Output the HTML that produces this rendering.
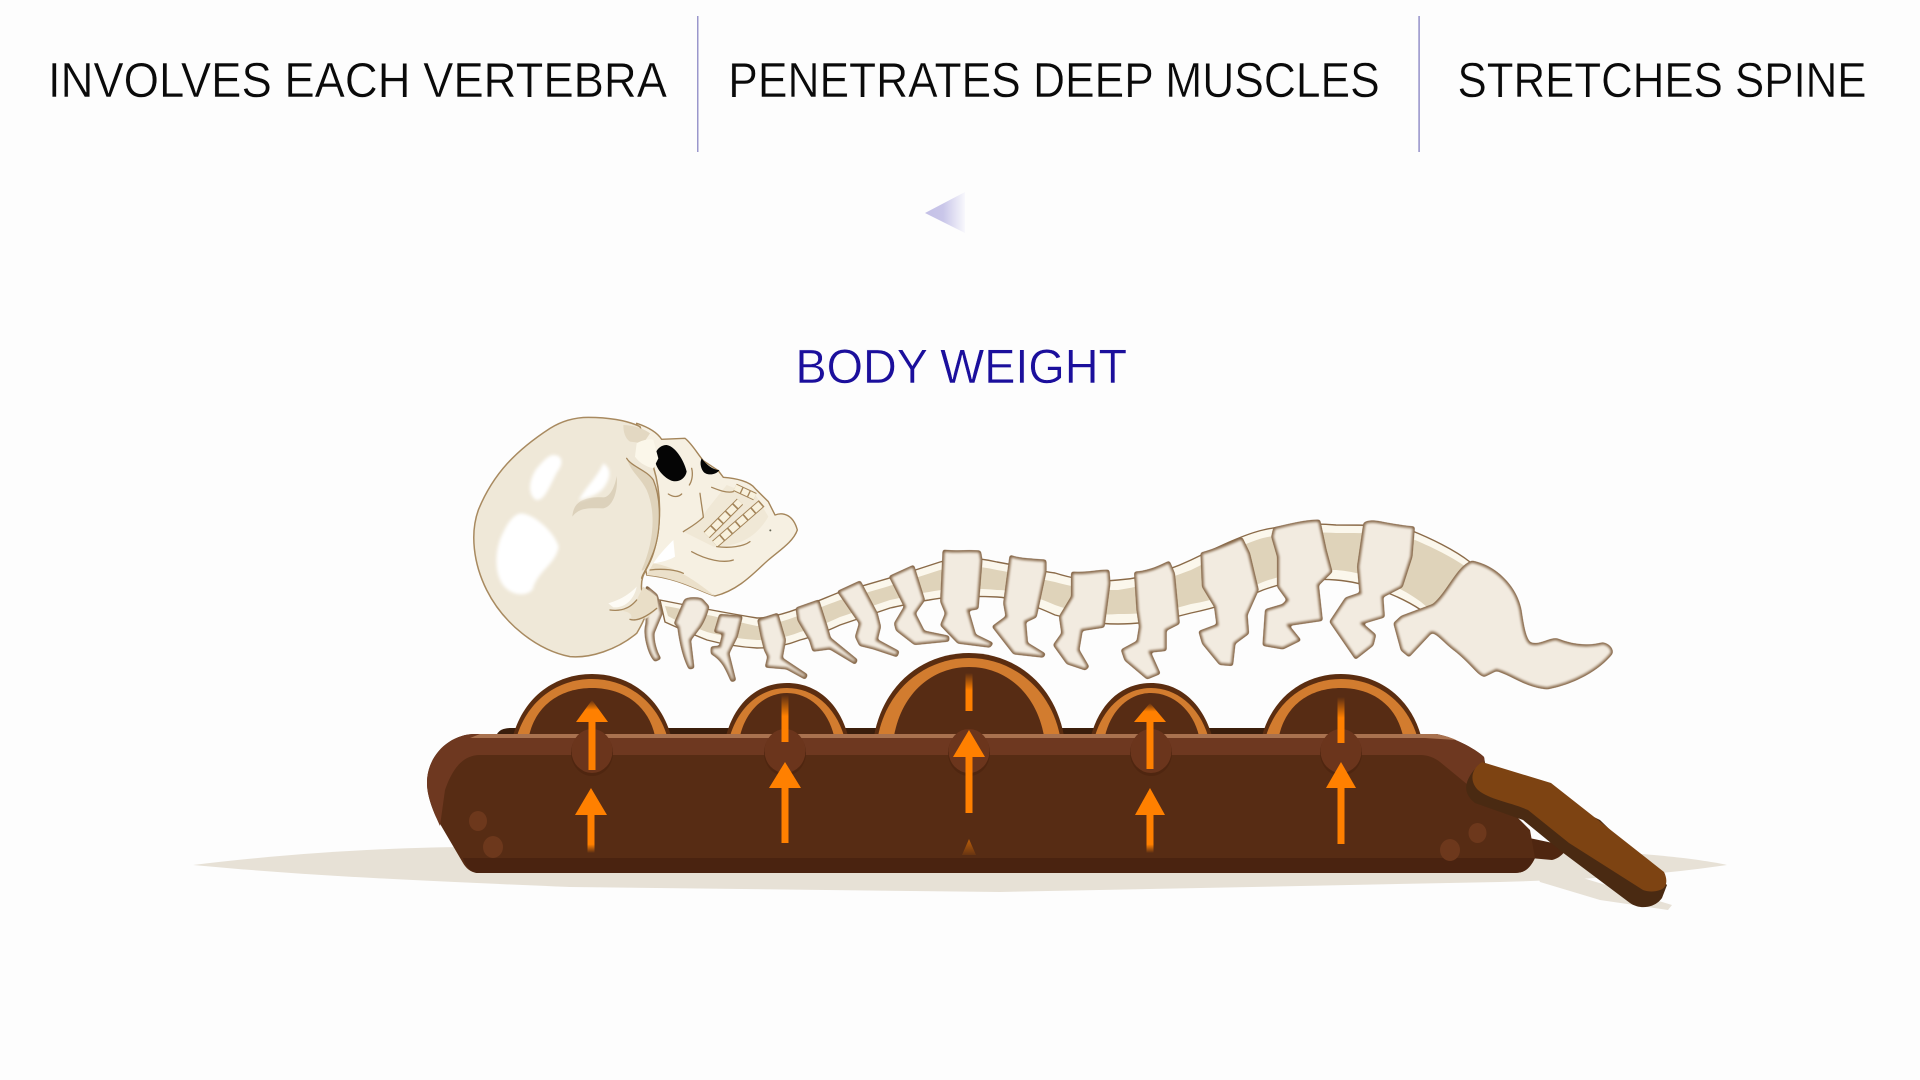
<!DOCTYPE html>
<html lang="en">
<head>
<meta charset="utf-8">
<title>Body weight spine diagram</title>
<style>
html,body{margin:0;padding:0;width:1920px;height:1080px;overflow:hidden;background:#fdfdfd}
svg{display:block;position:absolute;left:0;top:0}
text{font-family:"Liberation Sans",sans-serif;stroke:#fdfdfd;stroke-width:.45px}
.b{fill:#f2ebe0;stroke:#7d5c3c;stroke-width:2;stroke-linejoin:round;vector-effect:non-scaling-stroke}
.l{fill:none;stroke:#a4855a;stroke-width:1.3;stroke-linecap:round;vector-effect:non-scaling-stroke}
</style>
</head>
<body>
<svg width="1920" height="1080" viewBox="0 0 1920 1080" xmlns="http://www.w3.org/2000/svg">
<defs>
<linearGradient id="fb" x1="0" y1="0" x2="0" y2="1"><stop offset="0" stop-color="#ff8000"/><stop offset=".78" stop-color="#ff8000"/><stop offset="1" stop-color="#ff8000" stop-opacity="0"/></linearGradient>
<linearGradient id="ft" x1="0" y1="1" x2="0" y2="0"><stop offset="0" stop-color="#ff8000"/><stop offset=".55" stop-color="#ff8000"/><stop offset="1" stop-color="#ff8000" stop-opacity="0"/></linearGradient>
<linearGradient id="ftt" x1="0" y1="1" x2="0" y2="0"><stop offset="0" stop-color="#ff8000" stop-opacity=".1"/><stop offset="1" stop-color="#ff8000" stop-opacity=".6"/></linearGradient>
<linearGradient id="tri" x1="0" y1="0" x2="1" y2="0"><stop offset="0" stop-color="#c4c0e6"/><stop offset=".45" stop-color="#c9c6e9"/><stop offset="1" stop-color="#f8f8fc"/></linearGradient>
<filter id="round" x="-3%" y="-5%" width="106%" height="110%" color-interpolation-filters="sRGB"><feGaussianBlur stdDeviation="1.4"/><feComponentTransfer><feFuncA type="linear" slope="5" intercept="-1.8"/></feComponentTransfer></filter>
<filter id="soft" x="-20%" y="-20%" width="140%" height="140%"><feGaussianBlur stdDeviation="5"/></filter>
</defs>

<!-- header -->
<text x="48" y="97" font-size="49" fill="#0a0a0a" textLength="619" lengthAdjust="spacingAndGlyphs">INVOLVES EACH VERTEBRA</text>
<text x="728.3" y="97" font-size="49" fill="#0a0a0a" textLength="651.4" lengthAdjust="spacingAndGlyphs">PENETRATES DEEP MUSCLES</text>
<text x="1457.5" y="97" font-size="49" fill="#0a0a0a" textLength="409" lengthAdjust="spacingAndGlyphs">STRETCHES SPINE</text>
<rect x="697" y="16" width="1.5" height="136" fill="#9a97cc"/>
<rect x="1418.3" y="16" width="1.6" height="136" fill="#9a97cc"/>

<!-- triangle -->
<path d="M925,213 L965,192 L965,233 Z" fill="url(#tri)"/>

<text x="795.5" y="383" font-size="48" fill="#1b0f9c" textLength="331.5" lengthAdjust="spacingAndGlyphs">BODY WEIGHT</text>

<!-- shadow -->
<path d="M193,865 C 300,852 400,847 480,847 L1500,847 C 1600,850 1680,855 1727,865 C 1660,875 1580,880 1500,882 L1000,892 L570,887 C 400,880 300,875 193,865Z" fill="#e7e1d6"/>
<path d="M1530,862 L1672,905 L1668,910 L1600,900 L1540,882Z" fill="#e7e1d6"/>

<!-- spine band -->
<path d="M660,600 C 680,604 720,612 757,618 C 780,618 810,604 840,592 C 870,584 910,572 940,562 C 960,556 980,558 997,562 C 1020,566 1040,571 1055,573 C 1080,581 1100,582 1118,580 C 1145,578 1170,570 1191,560 C 1220,546 1245,534 1263,530 C 1290,524 1315,523 1336,525 C 1370,525 1395,525 1410,530 C 1430,538 1455,550 1470,562 L1440,625 L1421,610 C 1400,596 1365,582 1336,580 C 1310,578 1285,582 1263,590 C 1240,600 1215,608 1191,613 C 1165,620 1140,624 1118,624 C 1095,624 1075,620 1055,615 C 1035,606 1015,598 997,597 C 975,596 950,596 929,600 C 915,602 905,605 890,608 C 872,614 855,620 840,625 C 825,632 812,637 800,640 C 785,646 770,648 757,648 C 740,647 722,644 707,640 C 692,634 678,628 665,622Z" fill="#fbf7ec" stroke="#8a6a48" stroke-width="1.4"/>
<path d="M665,606 C 680,608 720,618 757,626 C 780,625 810,611 840,600 C 870,592 910,580 940,570 C 960,564 980,566 997,570 C 1020,574 1040,579 1055,582 C 1080,589 1100,590 1118,590 C 1145,586 1170,578 1191,570 C 1220,556 1245,543 1263,538 C 1290,532 1315,532 1336,533 C 1370,533 1395,533 1410,538 C 1430,546 1455,558 1470,570 L1440,618 L1421,602 C 1400,586 1365,572 1336,570 C 1310,570 1285,574 1263,582 C 1240,592 1215,600 1191,604 C 1165,612 1140,614 1118,614 C 1095,616 1075,612 1055,605 C 1035,596 1015,590 997,590 C 975,588 950,588 929,592 C 915,594 905,597 890,600 C 872,606 855,612 840,617 C 825,624 812,629 800,632 C 785,638 770,640 757,640 C 740,639 722,636 707,632 C 692,626 678,622 668,616Z" fill="#dfd3ba"/>

<!-- cervical vertebrae -->
<g filter="url(#round)">
<g transform="translate(440,400) scale(.33333)">
  <path class="b" d="M620,560 L650,585 L665,640 L640,700 C 640,730 650,760 660,775 L645,782 C 625,760 610,700 620,670Z"/>
  <path class="b" d="M735,600 C 750,592 775,595 785,598 L805,620 C 800,640 790,665 780,680 L750,720 L760,803 L748,805 C 730,770 720,720 715,680 L705,670Z"/>
  <path class="b" d="M840,645 L905,650 L890,710 L865,760 L885,840 L875,843 C 860,810 850,780 815,760 L815,742 L840,740 L850,700 L825,695Z"/>
  <path class="b" d="M955,660 L1012,642 L1035,720 L1025,775 L1100,825 L1095,835 L1040,805 L978,800 L985,770 L975,750 L965,710Z"/>
  <path class="b" d="M1070,625 L1135,602 L1160,680 L1170,715 L1250,780 L1245,790 L1170,745 L1120,752 L1110,720 L1075,660Z"/>
  <path class="b" d="M1195,575 L1260,545 L1310,640 L1320,680 L1310,720 L1375,755 L1370,768 L1300,745 L1260,735 L1248,710 L1260,670Z"/>
  <path class="b" d="M1350,530 L1420,498 L1452,600 L1424,640 L1452,695 L1525,710 L1525,722 L1424,732 L1370,690 L1365,670 L1395,620Z"/>
</g>
</g>

<!-- skull -->
<g transform="translate(440,400) scale(.33333)">
  <!-- face and jaw -->
  <path class="b" style="fill:#f6f0e2;stroke:#a4855a;stroke-width:1.4" d="M590,70 C 620,80 650,95 665,118 L735,115 C 755,130 775,165 790,182 L835,212 L850,232 C 890,235 930,245 945,265 L985,305 L1005,345 C 1030,335 1060,345 1072,390 C 1060,425 1020,450 985,480 C 950,510 900,570 825,588 C 780,575 720,535 620,525 L600,400Z"/>
  <path d="M730,395 C 760,380 790,350 800,330 L860,255 L950,290 L985,350 C 950,410 900,440 820,440Z" fill="#f0e8d6"/>
  <path d="M620,525 C 720,535 780,575 825,588 C 800,570 720,500 640,490Z" fill="#ebe0ca"/>
  <path d="M640,490 C 660,460 690,430 700,420 L705,470 C 690,480 660,488 640,490Z" fill="#fff"/>

  <!-- teeth -->
  <path d="M800,405 L900,305" stroke="#a4855a" stroke-width="26" fill="none"/>
  <path d="M800,405 L900,305" stroke="#f8f1dd" stroke-width="20" stroke-dasharray="26 5" fill="none"/>
  <path d="M825,432 L965,310" stroke="#a4855a" stroke-width="26" fill="none"/>
  <path d="M825,432 L965,310" stroke="#f8f1dd" stroke-width="20" stroke-dasharray="26 5" fill="none"/>
  <path d="M885,262 L945,290" stroke="#a4855a" stroke-width="24" fill="none"/>
  <path d="M885,262 L945,290" stroke="#f8f1dd" stroke-width="18" stroke-dasharray="20 4" fill="none"/>

  <!-- eyes -->
  <path d="M680,135 C 710,140 735,190 740,215 C 735,240 710,250 690,240 C 660,225 640,190 645,165 C 650,145 665,135 680,135Z" fill="#050505"/>
  <path d="M785,175 C 800,195 820,210 838,210 C 830,225 800,228 790,215 C 780,200 780,185 785,175Z" fill="#050505"/>

  <path class="l" d="M755,205 C 760,225 755,245 748,255"/>
  <path class="l" d="M685,282 C 700,292 715,292 725,282"/>
  <path class="l" d="M780,280 C 785,320 790,345 790,352 C 765,375 745,385 730,395"/>
  <path class="l" d="M815,262 C 835,270 860,280 880,275"/>
  <path class="l" d="M830,440 C 870,445 910,440 930,425"/>
  <path class="l" d="M755,455 C 800,480 850,490 880,480"/>
  <path class="l" d="M630,510 C 670,505 710,510 730,520"/>
  <circle cx="991" cy="391" r="3" fill="#665"/>

  <!-- cranium -->
  <path class="b" style="fill:#efe8d8;stroke:#a88a60;stroke-width:1.5" d="M445,52 C 500,52 560,60 600,80 L640,200 C 665,280 665,380 640,460 C 625,510 600,520 605,570 C 640,600 620,650 590,700 C 530,750 450,775 390,770 C 290,750 190,670 140,570 C 100,490 90,400 115,330 C 160,220 230,150 330,85 C 370,60 410,52 445,52Z"/>
  <path d="M550,75 C 575,75 610,85 630,100 L610,130 L570,125 C 555,115 550,95 550,75Z" fill="#e3d8c2"/>
  <path d="M590,130 C 605,120 630,115 640,120 L655,175 L640,205 C 615,200 595,185 585,170Z" fill="#fbf7ea"/>
  <path d="M560,175 C 575,200 620,210 640,240 C 665,300 665,400 635,470 C 620,510 605,515 605,510 C 640,430 650,340 620,270 C 600,230 575,220 560,175Z" fill="#dfd3bb"/>
  <path class="l" d="M560,175 C 575,200 620,210 640,240 C 665,300 665,400 635,470 C 620,510 605,525 605,535"/>
  <path d="M397,350 C 400,300 440,290 490,292 C 510,292 525,260 530,228 C 535,270 520,320 490,325 C 450,325 420,320 397,350Z" fill="#dcd1bb"/>
  <g filter="url(#soft)">
  <path d="M340,165 C 368,165 372,190 352,215 C 332,250 312,312 285,298 C 262,278 268,240 288,208 C 305,188 325,165 340,165Z" fill="#fff"/>
  <path d="M245,340 C 288,345 345,400 356,440 C 348,492 293,512 278,568 C 256,594 208,584 187,552 C 160,510 166,438 192,393 C 208,358 228,340 245,340Z" fill="#fff"/>
  <path d="M490,190 C 514,204 514,232 492,262 C 472,288 440,292 416,302 C 438,258 468,238 490,190Z" fill="#fff"/>
  </g>
  <path d="M510,630 C 540,635 570,625 590,600 C 600,580 610,560 610,560 L650,590 L655,625 L620,655 L570,660 C 585,640 560,630 510,630Z" fill="#e9dec7"/>
  <path d="M505,610 C 535,600 560,590 590,560 C 585,590 560,625 520,622Z" fill="#fdfbf5"/>
  <path class="l" d="M510,630 C 545,635 570,625 590,600"/>
  <path class="l" d="M570,658 C 590,665 620,650 650,625"/>
</g>

<!-- lower vertebrae -->
<g filter="url(#round)">
<g transform="translate(900,500) scale(.48473,.33333)">
  <path class="b" d="M90,152 C 115,158 140,150 165,155 L168,180 L160,325 L140,330 L155,405 L190,430 L185,440 L120,428 L85,375 L95,340 L85,305Z"/>
  <path class="b" d="M228,168 C 250,180 275,178 300,182 L300,215 L280,350 L258,365 L262,430 L298,462 L295,470 L235,460 L192,380 L220,350 L215,310Z"/>
  <path class="b" d="M355,218 C 385,222 405,212 430,212 L432,250 L420,380 L375,390 L368,450 L388,500 L382,508 L345,490 L318,435 L335,400 L330,350 L355,290Z"/>
  <path class="b" d="M485,218 C 515,215 535,200 555,186 L565,220 L575,370 L548,390 L548,450 L515,455 L535,520 L510,535 L465,480 L458,450 L490,425 L495,380 L490,330Z"/>
  <path class="b" d="M622,160 C 650,150 680,130 705,115 L720,160 L738,270 L715,345 L718,400 L690,430 L685,495 L660,492 L625,430 L618,395 L655,375 L650,320 L625,260Z"/>
  <path class="b" d="M772,85 C 800,75 835,62 865,62 L878,150 L890,215 L862,255 L870,360 L800,375 L825,420 L790,445 L750,435 L755,330 L790,315 L800,300 L780,260 L780,170 L768,110Z"/>
  <path class="b" d="M958,70 C 975,55 1000,75 1060,82 L1055,170 L1035,260 L995,290 L998,350 L952,370 L980,405 L975,435 L940,475 L888,365 L920,295 L950,280 L945,200Z"/>
  <path class="b" d="M1180,185 C 1230,200 1270,260 1280,330 C 1285,380 1290,420 1300,430 C 1320,440 1340,415 1355,418 C 1375,430 1410,445 1450,430 C 1465,435 1470,450 1468,460 C 1440,510 1390,550 1335,565 C 1290,560 1260,520 1230,510 L1205,528 C 1190,520 1180,490 1145,450 C 1125,430 1105,390 1095,398 L1050,468 L1035,450 L1020,370 L1035,350 L1100,315 C 1130,280 1150,200 1180,185Z"/>
</g>
</g>

<!-- device -->
<path d="M497,734 C 500,729 505,728 512,728 L1265,728 L1265,736 L497,736Z" fill="#3a1e0c"/>

<!-- bumps -->
<g>
  <g fill="#5b2d10">
    <path d="M513,736 C 524,696 556,674 592,674 C 628,674 660,696 671,736Z"/>
    <path d="M726,736 C 735,702 758,683 787,683 C 816,683 839,702 848,736Z"/>
    <path d="M874,736 C 884,682 925,653 969,653 C 1013,653 1054,682 1064,736Z"/>
    <path d="M1091,736 C 1100,702 1123,683 1151,683 C 1179,683 1202,702 1212,736Z"/>
    <path d="M1262,736 C 1273,696 1305,674 1341,674 C 1377,674 1410,696 1421,736Z"/>
  </g>
  <g fill="#d27c2f">
    <path d="M517,736 C 528,700 558,679 592,679 C 626,679 656,700 667,736Z"/>
    <path d="M730,736 C 739,706 761,688 787,688 C 813,688 835,706 844,736Z"/>
    <path d="M878,736 C 888,686 928,658 969,658 C 1010,658 1050,686 1060,736Z"/>
    <path d="M1095,736 C 1104,706 1126,688 1151,688 C 1176,688 1199,706 1208,736Z"/>
    <path d="M1266,736 C 1277,700 1307,679 1341,679 C 1375,679 1406,700 1417,736Z"/>
  </g>
  <g fill="#572c14">
    <path d="M529,736 C 536,704 562,688 592,688 C 622,688 648,704 655,736Z"/>
    <path d="M740,736 C 746,710 765,693 787,693 C 809,693 828,710 834,736Z"/>
    <path d="M894,736 C 902,692 933,667 969,667 C 1005,667 1036,692 1044,736Z"/>
    <path d="M1105,736 C 1111,710 1129,693 1151,693 C 1173,693 1193,710 1199,736Z"/>
    <path d="M1279,736 C 1286,704 1311,688 1341,688 C 1371,688 1396,704 1403,736Z"/>
  </g>
</g>

<!-- body -->
<path d="M1515,835 L1567,846 C 1566,852 1560,858 1552,860 L1530,858Z" fill="#4f2610"/>
<path d="M475,734 L1436,734 C 1450,736 1475,748 1484,757 L1490,790 L1530,830 L1535,858 C 1530,868 1525,873 1515,873 L477,873 C 470,872 466,868 463,863 L436,817 C 432,808 427,795 427,783 C 427,755 450,734 475,734Z" fill="#572c14"/>
<path d="M475,734 L1436,734 C 1450,736 1475,748 1484,757 C 1486,765 1478,775 1468,785 L1440,762 C 1435,758 1428,755 1420,755 L480,755 C 462,755 452,770 445,790 L440,826 C 432,808 427,795 427,783 C 427,755 450,734 475,734Z" fill="#6e3820"/>
<path d="M480,734 L1436,734 C 1442,735 1450,737 1456,740 L1425,738 L470,738 L480,734Z" fill="#a9724f"/>
<path d="M463,858 L1535,858 C 1530,868 1525,873 1515,873 L477,873 C 470,872 466,866 463,858Z" fill="#4a2310"/>

<!-- rivets -->
<g fill="#6d381c">
  <ellipse cx="478" cy="821" rx="9" ry="10"/>
  <ellipse cx="493" cy="847" rx="10" ry="11"/>
  <ellipse cx="1477.5" cy="833" rx="9" ry="10"/>
  <ellipse cx="1450" cy="850" rx="10" ry="11"/>
</g>

<!-- lever holes -->
<g>
  <g fill="#4f2610">
    <ellipse cx="592" cy="753" rx="21" ry="23"/><ellipse cx="785" cy="753" rx="21" ry="23"/><ellipse cx="969" cy="753" rx="21" ry="23"/><ellipse cx="1151" cy="753" rx="21" ry="23"/><ellipse cx="1341" cy="753" rx="21" ry="23"/>
  </g>
  <g fill="#6b351c">
    <ellipse cx="592" cy="751" rx="20.5" ry="22"/><ellipse cx="785" cy="751" rx="20.5" ry="22"/><ellipse cx="969" cy="751" rx="20.5" ry="22"/><ellipse cx="1151" cy="751" rx="20.5" ry="22"/><ellipse cx="1341" cy="751" rx="20.5" ry="22"/>
  </g>
</g>

<!-- handle -->
<path d="M1474,770 C 1462,785 1465,795 1475,803 L1523,820 L1562,852 L1630,903 C 1640,910 1655,908 1662,898 L1667,885 L1600,820 L1482,762Z" fill="#4a2a12"/>
<path d="M1482,762 L1551,783 L1664,872 C 1668,880 1667,888 1660,890 C 1655,892 1648,892 1643,890 L1569,843 L1528,810 C 1510,802 1490,800 1478,790 C 1470,782 1470,770 1482,762Z" fill="#7d4312"/>

<!-- arrows -->
<g>
  <path d="M592,700 L608,722 L576,722Z" fill="url(#ft)"/>
  <rect x="588.5" y="720" width="7" height="50" fill="#ff8000"/>
  <path d="M591,788 L607,815 L575,815Z" fill="#ff8000"/>
  <rect x="587.5" y="814" width="7" height="39" fill="url(#fb)"/>

  <rect x="781.5" y="695" width="7" height="47" fill="url(#ft)"/>
  <path d="M785,762 L801,788 L769,788Z" fill="#ff8000"/>
  <rect x="781.5" y="787" width="7" height="56" fill="#ff8000"/>

  <rect x="965.5" y="673" width="7" height="38" fill="url(#ft)"/>
  <path d="M969,730 L985,757 L953,757Z" fill="#ff8000"/>
  <rect x="965.5" y="756" width="7" height="57" fill="#ff8000"/>
  <path d="M969,839 L976,855 L962,855Z" fill="url(#ftt)"/>

  <path d="M1150,703 L1166,722 L1134,722Z" fill="url(#ft)"/>
  <rect x="1146.5" y="720" width="7" height="49" fill="#ff8000"/>
  <path d="M1150,788 L1165,815 L1135,815Z" fill="#ff8000"/>
  <rect x="1146.5" y="814" width="7" height="39" fill="url(#fb)"/>

  <rect x="1337.5" y="697" width="7" height="46" fill="url(#ft)"/>
  <path d="M1341,762 L1356,788 L1326,788Z" fill="#ff8000"/>
  <rect x="1337.5" y="787" width="7" height="57" fill="#ff8000"/>
</g>
</svg>
</body>
</html>
